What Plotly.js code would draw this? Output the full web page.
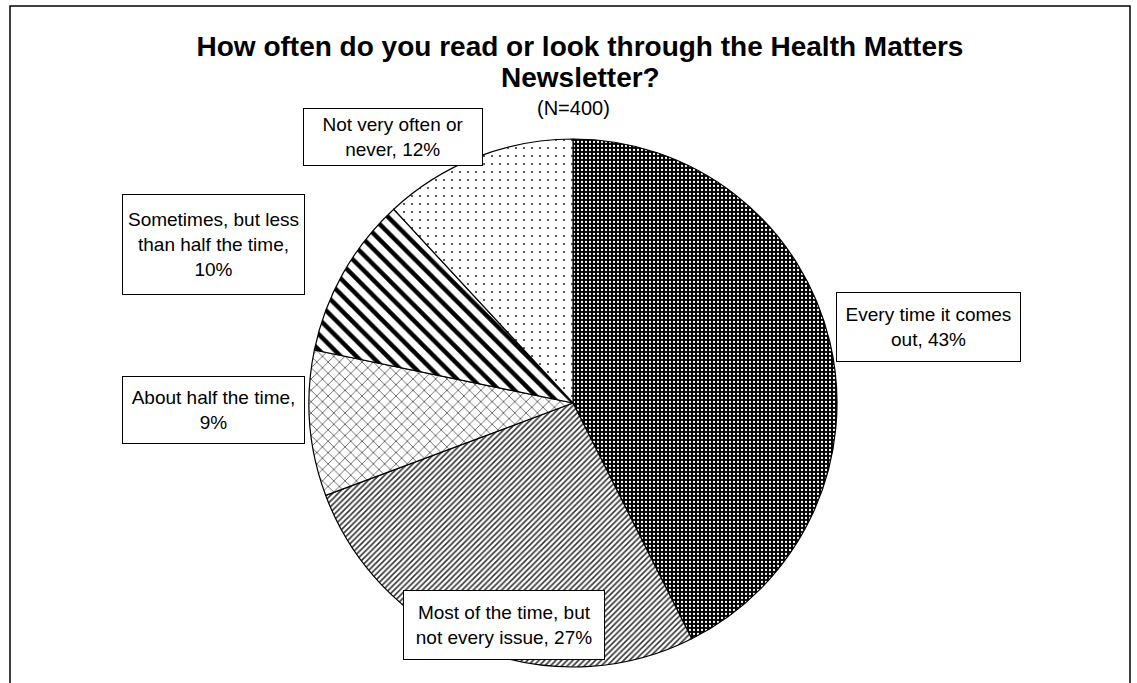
<!DOCTYPE html>
<html>
<head>
<meta charset="utf-8">
<script src="https://cdn.plot.ly/plotly-3.0.1.min.js"></script>
<style>
  html, body { margin: 0; padding: 0; background: #fff; }
  #chart { width: 1137px; height: 683px; }
</style>
</head>
<body>
<div id="chart"></div>
<script>
// ---- data ----
const categories = [
  "Every time it comes out",
  "Most of the time, but not every issue",
  "About half the time",
  "Sometimes, but less than half the time",
  "Not very often or never"
];
const values = [43, 27, 9, 10, 12];
// label text as printed in boxes (line breaks as in the reference)
const labelLines = [
  ["Every time it comes", "out, {v}%"],
  ["Most of the time, but", "not every issue, {v}%"],
  ["About half the time,", "{v}%"],
  ["Sometimes, but less", "than half the time,", "{v}%"],
  ["Not very often or", "never, {v}%"]
];
const titleLines = ["How often do you read or look through the Health Matters", "Newsletter?"];
const subtitleText = "(N=400)";

// ---- layout helpers (positions in pixels of the 1137x683 canvas) ----
const W = 1137, H = 683;
const boxes = [ // center x, center y, width, height
  [928, 327, 185, 70],
  [504, 625, 202, 70],
  [213, 410, 183, 68],
  [213, 244, 183, 101],
  [393, 137, 180, 58]
];
const FONT = "Liberation Sans, Arial, Helvetica, sans-serif";

const trace = {
  type: "pie",
  labels: categories,
  values: values,
  sort: false,
  direction: "clockwise",
  rotation: 0,
  textinfo: "none",
  hoverinfo: "label+percent",
  showlegend: false,
  domain: { x: [309 / W, 837 / W], y: [(H - 667) / H, (H - 139) / H] },
  marker: {
    colors: ["#000000", "#ffffff", "#ffffff", "#ffffff", "#ffffff"],
    line: { color: "#000000", width: 1.2 },
    pattern: {
      shape: [".", "/", "x", "\\", "."],
      fgcolor: ["#ffffff", "#333333", "#444444", "#000000", "#222222"],
      bgcolor: ["#000000", "#ffffff", "#ffffff", "#ffffff", "#ffffff"],
      size: [4, 4, 8, 11, 8],
      solidity: [0.25, 0.4, 0.18, 0.4, 0.05],
      fillmode: "replace"
    }
  }
};

const annotations = categories.map((c, i) => ({
  xref: "paper", yref: "paper",
  x: boxes[i][0] / W, y: 1 - boxes[i][1] / H,
  xanchor: "center", yanchor: "middle",
  showarrow: false,
  text: labelLines[i].map(s => s.replace("{v}", values[i])).join("<br>"),
  align: "center",
  width: boxes[i][2] - 2, height: boxes[i][3] - 2,
  borderpad: 0,
  bordercolor: "#000000", borderwidth: 1,
  bgcolor: "#ffffff",
  font: { family: FONT, size: 19, color: "#000000" }
}));
// second title line
annotations.push({
  xref: "paper", yref: "paper",
  x: 580 / W, y: 1 - 78 / H,
  xanchor: "center", yanchor: "middle",
  showarrow: false,
  text: titleLines[1],
  font: { family: FONT, size: 28, color: "#000000", weight: "bold" }
});
annotations.push({
  xref: "paper", yref: "paper",
  x: 573 / W, y: 1 - 108 / H,
  xanchor: "center", yanchor: "middle",
  showarrow: false,
  text: subtitleText,
  font: { family: FONT, size: 20, color: "#000000" }
});

const layout = {
  width: W, height: H,
  margin: { l: 0, r: 0, t: 0, b: 0 },
  paper_bgcolor: "#ffffff",
  title: {
    text: titleLines[0],
    x: 580 / W, xanchor: "center",
    y: 1 - 46 / H, yanchor: "middle",
    font: { family: FONT, size: 28, color: "#000000", weight: "bold" }
  },
  annotations: annotations,
  shapes: [{
    type: "rect", xref: "paper", yref: "paper",
    x0: 10 / W, x1: 1130 / W, y0: -0.05, y1: 1 - 6 / H,
    line: { color: "#000000", width: 1.5 }, fillcolor: "rgba(0,0,0,0)", layer: "below"
  }]
};

Plotly.newPlot("chart", [trace], layout, { staticPlot: true, displayModeBar: false });
</script>
</body>
</html>
